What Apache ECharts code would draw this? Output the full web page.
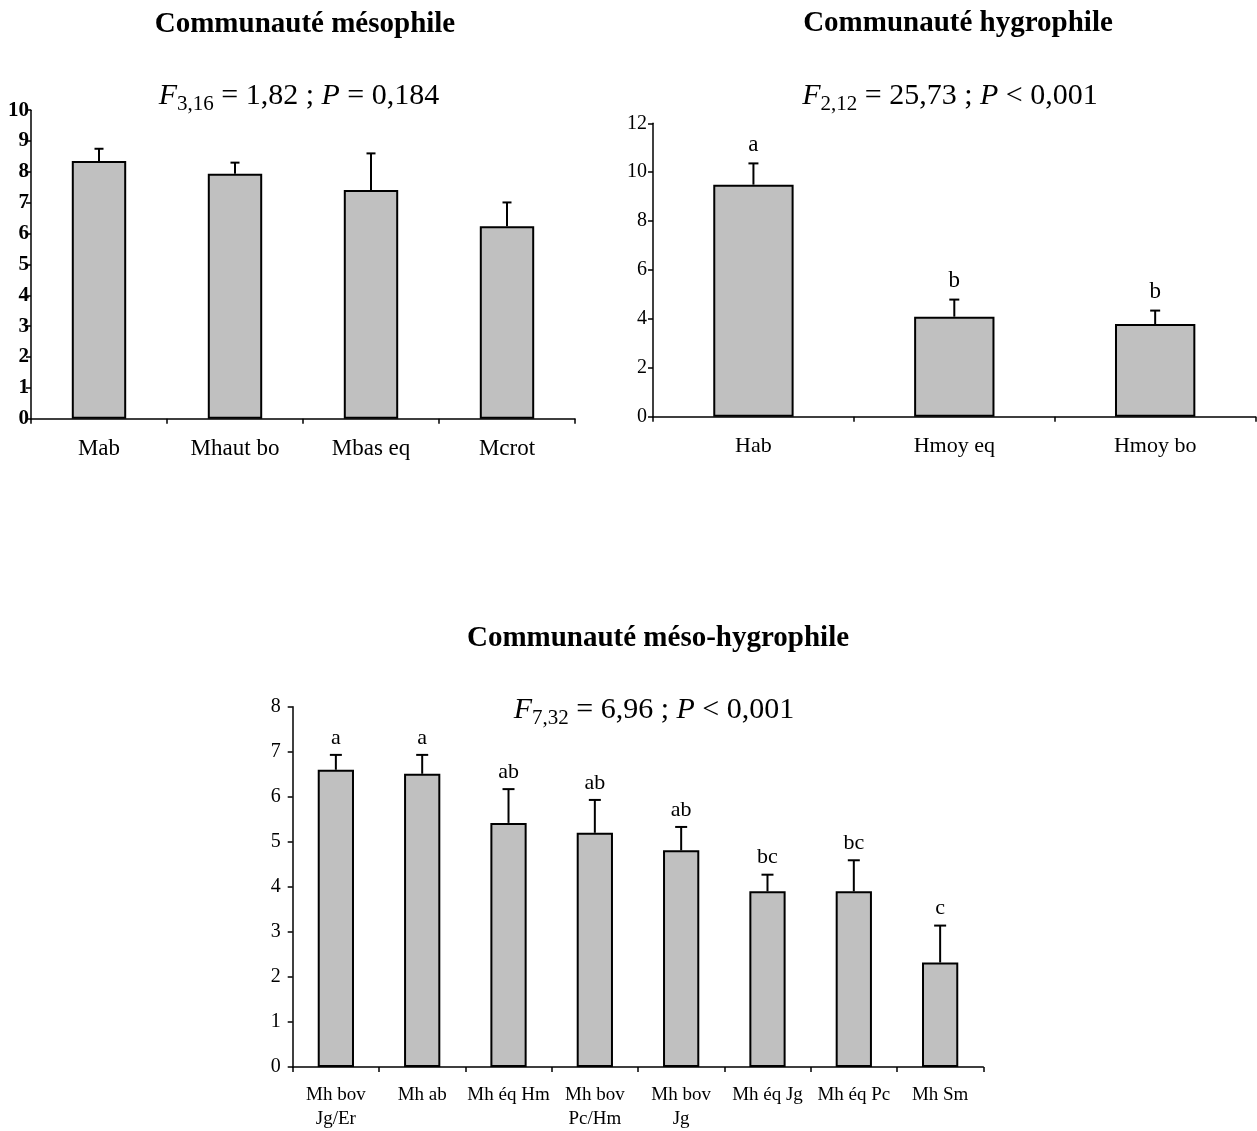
<!DOCTYPE html>
<html>
<head>
<meta charset="utf-8">
<script src="https://cdn.jsdelivr.net/npm/echarts@6/dist/echarts.min.js"></script>
<style>
  html, body { margin: 0; padding: 0; background: #fff; }
  #chart { width: 1257px; height: 1131px; }
</style>
</head>
<body>
<div id="chart"></div>
<script>
// ---------- DATA ----------
const mesoCats = ['Mab', 'Mhaut bo', 'Mbas eq', 'Mcrot'];
const mesoMeans = [8.35, 7.94, 7.41, 6.24];
const mesoSE = [0.40, 0.36, 1.19, 0.77];
const mesoLetters = ['', '', '', ''];
const mesoYTicks = { min: 0, max: 10, interval: 1 };

const hygroCats = ['Hab', 'Hmoy eq', 'Hmoy bo'];
const hygroMeans = [9.49, 4.09, 3.79];
const hygroSE = [0.87, 0.70, 0.55];
const hygroLetters = ['a', 'b', 'b'];
const hygroYTicks = { min: 0, max: 12, interval: 2 };

const mhCats = ['Mh bov\nJg/Er', 'Mh ab', 'Mh éq Hm', 'Mh bov\nPc/Hm', 'Mh bov\nJg', 'Mh éq Jg', 'Mh éq Pc', 'Mh Sm'];
const mhMeans = [6.60, 6.51, 5.42, 5.20, 4.81, 3.90, 3.90, 2.32];
const mhSE = [0.33, 0.42, 0.75, 0.73, 0.52, 0.37, 0.69, 0.82];
const mhLetters = ['a', 'a', 'ab', 'ab', 'ab', 'bc', 'bc', 'c'];
const mhYTicks = { min: 0, max: 8, interval: 1 };

const titles = ['Communauté mésophile', 'Communauté hygrophile', 'Communauté méso-hygrophile'];
const stats = [
  { sub: '3,16', rest1: ' = 1,82 ; ', rel: ' = 0,184' },
  { sub: '2,12', rest1: ' = 25,73 ; ', rel: ' < 0,001' },
  { sub: '7,32', rest1: ' = 6,96 ; ', rel: ' < 0,001' }
];

// ---------- STYLE ----------
const SERIF = '"Liberation Serif", "Times New Roman", serif';
const BAR_FILL = '#c0c0c0';

function errRenderer(letters, capW, letterSize, letterGap) {
  return function (params, api) {
    const i = api.value(0);
    const base = api.coord([i, api.value(1)]);
    const top = api.coord([i, api.value(2)]);
    const children = [
      { type: 'line', shape: { x1: base[0], y1: base[1], x2: top[0], y2: top[1] },
        style: { stroke: '#000', lineWidth: 2 } },
      { type: 'line', shape: { x1: top[0] - capW / 2, y1: top[1], x2: top[0] + capW / 2, y2: top[1] },
        style: { stroke: '#000', lineWidth: 2 } }
    ];
    const letter = letters[params.dataIndex];
    if (letter) {
      children.push({
        type: 'text', x: top[0], y: top[1] - letterGap,
        style: { text: letter, align: 'center', verticalAlign: 'bottom',
                 fontSize: letterSize, fontFamily: SERIF, fill: '#000' }
      });
    }
    return { type: 'group', children: children };
  };
}

function xAxisCfg(grid, cats, fontSize, margin, lineHeight) {
  return {
    type: 'category', gridIndex: grid, data: cats,
    axisLine: { lineStyle: { color: '#000', width: 1.5 } },
    axisTick: { show: true, length: 5, lineStyle: { color: '#000', width: 1.5 } },
    axisLabel: { color: '#000', fontFamily: SERIF, fontSize: fontSize, margin: margin,
                 lineHeight: lineHeight, interval: 0 },
    splitLine: { show: false }
  };
}
function yAxisCfg(grid, ticks, fontSize, bold, margin) {
  return {
    type: 'value', gridIndex: grid, min: ticks.min, max: ticks.max, interval: ticks.interval,
    axisLine: { show: true, lineStyle: { color: '#000', width: 1.5 } },
    axisTick: { show: true, length: 5, lineStyle: { color: '#000', width: 1.5 } },
    axisLabel: { color: '#000', fontFamily: SERIF, fontSize: fontSize,
                 fontWeight: bold ? 'bold' : 'normal', margin: margin },
    splitLine: { show: false }
  };
}

function statText(s, cx, cy) {
  return {
    type: 'text', x: cx, y: cy,
    style: {
      text: '{i|F}{s|' + s.sub + '}{n|' + s.rest1 + '}{i|P}{n|' + s.rel + '}',
      align: 'center', verticalAlign: 'middle',
      rich: {
        i: { fontFamily: SERIF, fontSize: 30, fontStyle: 'italic', lineHeight: 38, fill: '#000' },
        n: { fontFamily: SERIF, fontSize: 30, lineHeight: 38, fill: '#000' },
        s: { fontFamily: SERIF, fontSize: 21, lineHeight: 14, verticalAlign: 'bottom', fill: '#000' }
      }
    }
  };
}
function titleText(t, cx, cy) {
  return {
    type: 'text', x: cx, y: cy,
    style: { text: t, align: 'center', verticalAlign: 'middle',
             fontFamily: SERIF, fontSize: 29, fontWeight: 'bold', fill: '#000' }
  };
}

const chart = echarts.init(document.getElementById('chart'), null, { renderer: 'canvas' });

const option = {
  backgroundColor: '#fff',
  animation: false,
  grid: [
    { left: 31, right: 682, top: 110.2, bottom: 712.3 },
    { left: 653, right: 1.4, top: 123.3, bottom: 714.3 },
    { left: 292.7, right: 273.7, top: 706.7, bottom: 64 }
  ],
  xAxis: [
    xAxisCfg(0, mesoCats, 23, 17, 26),
    xAxisCfg(1, hygroCats, 22, 17, 26),
    xAxisCfg(2, mhCats, 19, 16, 24)
  ],
  yAxis: [
    yAxisCfg(0, mesoYTicks, 21, true, 2),
    yAxisCfg(1, hygroYTicks, 20, false, 6),
    yAxisCfg(2, mhYTicks, 20, false, 12)
  ],
  series: [
    { type: 'bar', xAxisIndex: 0, yAxisIndex: 0, data: mesoMeans, barWidth: '40%',
      itemStyle: { color: BAR_FILL, borderColor: '#000', borderWidth: 2 } },
    { type: 'custom', xAxisIndex: 0, yAxisIndex: 0, z: 5,
      data: mesoMeans.map((m, i) => [i, m, m + mesoSE[i]]),
      renderItem: errRenderer(mesoLetters, 9, 22, 8) },

    { type: 'bar', xAxisIndex: 1, yAxisIndex: 1, data: hygroMeans, barWidth: '40%',
      itemStyle: { color: BAR_FILL, borderColor: '#000', borderWidth: 2 } },
    { type: 'custom', xAxisIndex: 1, yAxisIndex: 1, z: 5,
      data: hygroMeans.map((m, i) => [i, m, m + hygroSE[i]]),
      renderItem: errRenderer(hygroLetters, 10, 23, 7) },

    { type: 'bar', xAxisIndex: 2, yAxisIndex: 2, data: mhMeans, barWidth: '42%',
      itemStyle: { color: BAR_FILL, borderColor: '#000', borderWidth: 2 } },
    { type: 'custom', xAxisIndex: 2, yAxisIndex: 2, z: 5,
      data: mhMeans.map((m, i) => [i, m, m + mhSE[i]]),
      renderItem: errRenderer(mhLetters, 12, 22, 6) }
  ],
  graphic: [
    titleText(titles[0], 305, 25),
    titleText(titles[1], 958, 24),
    titleText(titles[2], 658, 639),
    statText(stats[0], 299, 96),
    statText(stats[1], 950, 96),
    statText(stats[2], 654, 710)
  ]
};
chart.setOption(option);
</script>
</body>
</html>
